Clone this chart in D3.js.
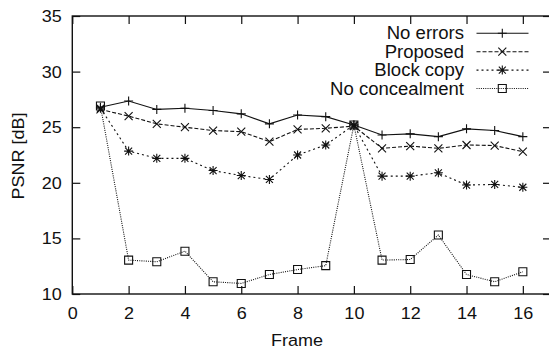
<!DOCTYPE html>
<html>
<head>
<meta charset="utf-8">
<script src="https://cdn.jsdelivr.net/npm/d3@7"></script>
<style>
  html, body { margin: 0; padding: 0; background: #fff; }
  svg { display: block; }
  text { font-family: "Liberation Sans", Arial, Helvetica, sans-serif; fill: #111; }
</style>
</head>
<body>
<svg id="chart" width="549" height="349"></svg>
<script>
// ---- data ----
const frames = [1, 2, 3, 4, 5, 6, 7, 8, 9, 10, 11, 12, 13, 14, 15, 16];
const noErrors = [26.8, 27.35, 26.6, 26.7, 26.5, 26.2, 25.3, 26.1, 25.95, 25.2, 24.3, 24.4, 24.15, 24.85, 24.7, 24.15];
const proposed = [26.6, 26.0, 25.3, 25.0, 24.7, 24.6, 23.7, 24.8, 24.9, 25.1, 23.1, 23.3, 23.1, 23.4, 23.35, 22.8];
const blockCopy = [26.7, 22.85, 22.2, 22.2, 21.1, 20.65, 20.3, 22.5, 23.4, 25.2, 20.6, 20.6, 20.9, 19.8, 19.85, 19.6];
const noConcealment = [26.9, 13.05, 12.9, 13.85, 11.1, 10.95, 11.75, 12.2, 12.55, 25.2, 13.05, 13.1, 15.3, 11.75, 11.1, 12.0];
const seriesNames = ["No errors", "Proposed", "Block copy", "No concealment"];
const xTicks = [0, 2, 4, 6, 8, 10, 12, 14, 16];
const yTicks = [10, 15, 20, 25, 30, 35];
const xLabel = "Frame";
const yLabel = "PSNR [dB]";

// ---- layout ----
const svg = d3.select("#chart");
const L = 72.3, R = 551, T = 16, B = 294;
const x = d3.scaleLinear().domain([0, 17]).range([L, R]);
const y = d3.scaleLinear().domain([10, 35]).range([B, T]);
const FS = 17, SX = 1.06;
const ink = "#111";

const series = [
  { name: seriesNames[0], values: noErrors, dash: null, marker: "plus" },
  { name: seriesNames[1], values: proposed, dash: "4,2", marker: "cross" },
  { name: seriesNames[2], values: blockCopy, dash: "2,3", marker: "star" },
  { name: seriesNames[3], values: noConcealment, dash: "1,1.2", marker: "square" }
];

const markerPaths = {
  plus: "M-4.5,0H4.5M0,-4.5V4.5",
  cross: "M-4,-4L4,4M-4,4L4,-4",
  star: "M-4.5,0H4.5M0,-4.5V4.5M-3.5,-3.5L3.5,3.5M-3.5,3.5L3.5,-3.5",
  square: "M-4,-4H4V4H-4Z"
};

function stretch(sel, ax) {
  sel.attr("transform", `translate(${ax},0) scale(${SX},1) translate(${-ax},0)`);
}

// ---- axes ----
const gx = svg.append("g").attr("transform", `translate(0,${B})`)
  .call(d3.axisBottom(x).tickValues(xTicks).tickSizeInner(-8).tickSizeOuter(0).tickPadding(12.7));
const gxTop = svg.append("g").attr("transform", `translate(0,${T})`)
  .call(d3.axisTop(x).tickValues(xTicks).tickSizeInner(-8).tickSizeOuter(0).tickFormat(""));
const gy = svg.append("g").attr("transform", `translate(${L},0)`)
  .call(d3.axisLeft(y).tickValues(yTicks).tickSizeInner(-8).tickSizeOuter(0).tickPadding(10.6));
const gyRight = svg.append("g").attr("transform", `translate(${R},0)`)
  .call(d3.axisRight(y).tickValues(yTicks).tickSizeInner(-8).tickSizeOuter(0).tickFormat(""));

[gx, gxTop, gy, gyRight].forEach(g => {
  g.select(".domain").remove();
  g.selectAll(".tick line").attr("stroke", ink).attr("stroke-width", 1.2);
  g.selectAll(".tick text").style("font-size", FS + "px").attr("fill", ink)
    .style("font-family", '"Liberation Sans", Arial, sans-serif');
});
gx.selectAll(".tick text").each(function () { stretch(d3.select(this), 0); });
gy.selectAll(".tick text").each(function () { stretch(d3.select(this), -10.6); });

// frame
svg.append("rect").attr("x", L).attr("y", T).attr("width", R - L).attr("height", B - T)
  .attr("fill", "none").attr("stroke", ink).attr("stroke-width", 1.4);

// axis titles
const xt = svg.append("text").attr("x", 297).attr("y", 345.7).attr("text-anchor", "middle")
  .style("font-size", FS + "px").text(xLabel);
stretch(xt, 297);
svg.append("text").attr("transform", `translate(24,156) rotate(-90) scale(${SX},1)`)
  .attr("text-anchor", "middle").style("font-size", FS + "px").text(yLabel);

// ---- series ----
const line = d3.line().x((d, i) => x(frames[i])).y(d => y(d));
const plot = svg.append("g");
series.slice().reverse().forEach(s => {
  plot.append("path").datum(s.values).attr("d", line)
    .attr("fill", "none").attr("stroke", ink).attr("stroke-width", 1.1)
    .attr("stroke-dasharray", s.dash);
  plot.selectAll(null).data(s.values).enter().append("path")
    .attr("transform", (d, i) => `translate(${x(frames[i])},${y(d)})`)
    .attr("d", markerPaths[s.marker])
    .attr("fill", "none").attr("stroke", ink).attr("stroke-width", 1.1);
});

// ---- legend ----
const lg = svg.append("g");
series.forEach((s, i) => {
  const cy = 33.3 + i * 18.4;
  const t = lg.append("text").attr("x", 464).attr("y", cy + 6.1).attr("text-anchor", "end")
    .style("font-size", (FS + 0.5) + "px").text(s.name);
  stretch(t, 464);
  lg.append("line").attr("x1", 476.5).attr("x2", 528.5).attr("y1", cy).attr("y2", cy)
    .attr("stroke", ink).attr("stroke-width", 1.1).attr("stroke-dasharray", s.dash);
  lg.append("path").attr("transform", `translate(502.3,${cy})`).attr("d", markerPaths[s.marker])
    .attr("fill", "none").attr("stroke", ink).attr("stroke-width", 1.1);
});
</script>
</body>
</html>
